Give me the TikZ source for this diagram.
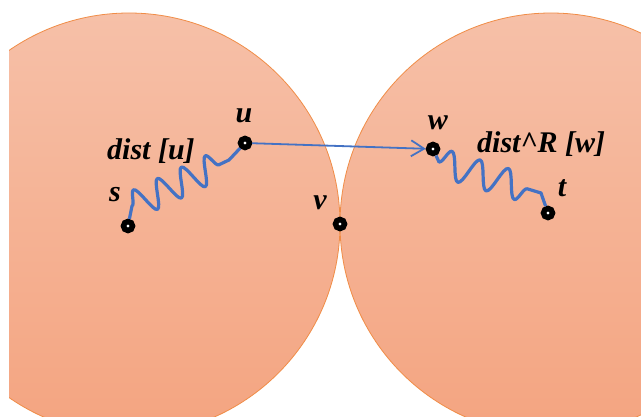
\documentclass[tikz,border=0pt]{standalone}
\usepackage{fontspec}
\setmainfont{Liberation Serif}
\usetikzlibrary{
	arrows.meta,
	decorations.pathmorphing,
	positioning
}
\definecolor{DiskTop}{RGB}{246,192,168}
\definecolor{DiskBottom}{RGB}{244,164,128}
\definecolor{DiskEdge}{RGB}{240,140,70}
\definecolor{PathBlue}{RGB}{68,114,196}

\begin{document}
\begin{tikzpicture}[x=1pt, y=-1pt,
		vertex/.style={circle, draw=black, line width=5.5pt, fill=white, inner sep=0pt, minimum size=9pt},
		lbl/.style={font=\bfseries\itshape\fontsize{30}{32}\selectfont, inner sep=0pt, anchor=base},
		squiggle/.style={PathBlue, line width=3.2pt, line join=round,
			decoration={snake, segment length=26.5pt, amplitude=14pt}},
		hop/.style={PathBlue, line width=1.8pt, -{Straight Barb[length=13pt, width=16pt]}}]
		\useasboundingbox (0,0) rectangle (641,417);
		
		% 两个圆
		\begin{scope}
			\clip (9,0) rectangle (641,417);
			\shadedraw[top color=DiskTop, bottom color=DiskBottom, draw=DiskEdge, line width=0.8pt]
				(129,224) circle [radius=211pt];
			\shadedraw[top color=DiskTop, bottom color=DiskBottom, draw=DiskEdge, line width=0.8pt]
				(551,224) circle [radius=211pt];
		\end{scope}
		
		% 顶点
		\node[vertex] (s) at (128,226) {};
		\node[vertex] (u) at (245,143) {};
		\node[vertex] (v) at (340,224) {};
		\node[vertex] (w) at (433,149) {};
		\node[vertex] (t) at (548,213) {};
		
		% 波浪线的转折点
		\coordinate (s1) at (132,206);
		\coordinate (u1) at (229,160);
		\coordinate (w1) at (439,162);
		\coordinate (t1) at (541,193);
		
		% 路径
		\draw[squiggle] (s) -- (s1) decorate {-- (u1)} -- (u);
		\draw[squiggle, decoration={segment length=29.5pt}] (w) -- (w1) decorate {-- (t1)} -- (t);
		\draw[hop] (u) -- (w);
		
		% 标签
		\node[lbl] (slbl) at (115,202) {s};
		\node[lbl] (ulbl) at (244,123) {u};
		\node[lbl] (vlbl) at (320,210) {v};
		\node[lbl] (wlbl) at (438,130) {w};
		\node[lbl] (tlbl) at (562,197) {t};
		\node[lbl, anchor=base west] (du) at (107,160) {dist [u]};
		\node[lbl, anchor=base west] (dw) at (477,153) {dist\^{}R [w]};
	\end{tikzpicture}
\end{document}
